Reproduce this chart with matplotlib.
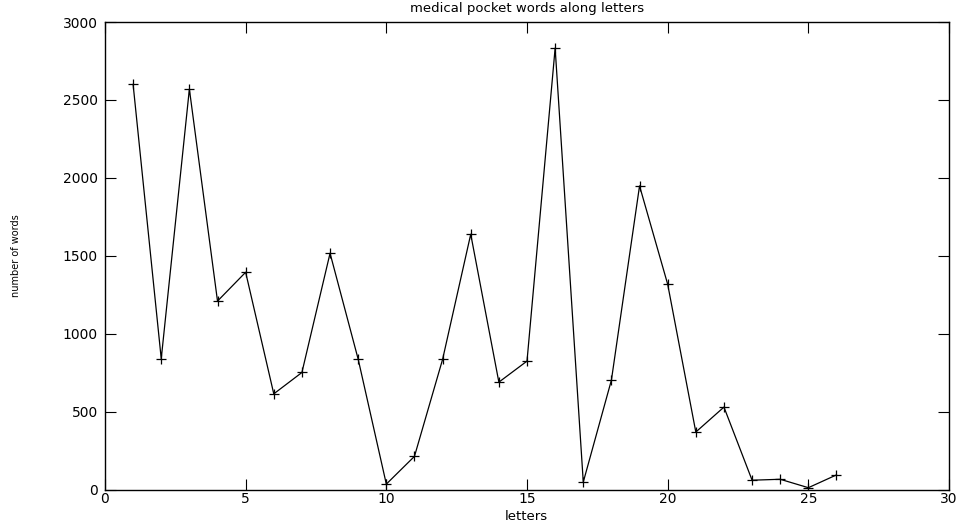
import numpy as np
import matplotlib
matplotlib.use('Agg')
import matplotlib.pyplot as plt

# words per letter (1 = a ... 26 = z)
letters = np.arange(1, 27)
words = [2600, 840, 2570, 1210, 1395, 615, 752, 1517, 837, 36,
         214, 836, 1639, 690, 825, 2833, 49, 703, 1949, 1318,
         370, 530, 61, 67, 13, 95]

xticks = [0, 5, 10, 15, 20, 25, 30]
yticks = [0, 500, 1000, 1500, 2000, 2500, 3000]

plt.rcParams['font.family'] = ['DejaVu Sans']

fig = plt.figure(figsize=(9.63, 5.25), dpi=100)
ax = fig.add_axes([0.109, 0.0672, 0.8765, 0.8908])

ax.plot(letters, words, color='black', lw=0.9, marker='+', ms=6.5, mew=0.9)

ax.set_xlim(0, 30)
ax.set_ylim(0, 3000)
ax.set_xticks(xticks)
ax.set_yticks(yticks)
ax.tick_params(direction='in', length=8, width=0.8, top=True, right=True,
               labelsize=10)
ax.tick_params(axis='x', pad=2)
ax.tick_params(axis='y', pad=5)
for s in ax.spines.values():
    s.set_linewidth(1.0)

# title and labels placed like the gnuplot output
fig.text(0.547, 0.984, 'medical pocket words along letters', fontsize=9.5,
         ha='center', va='center')
fig.text(0.547, 0.016, 'letters', fontsize=9.5, ha='center', va='center')
ax.set_ylabel('number of words', fontsize=7)
ax.yaxis.set_label_coords(-0.0995, 0.5)

fig.savefig('out.png', dpi=100)
